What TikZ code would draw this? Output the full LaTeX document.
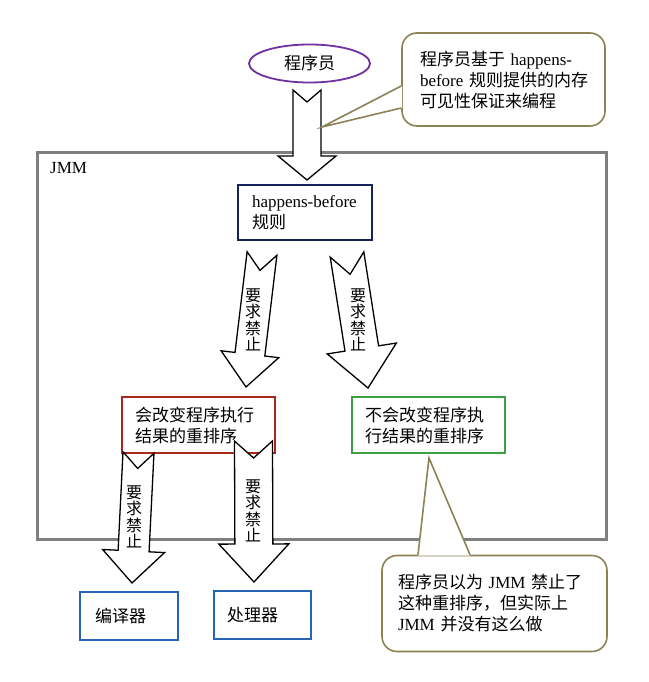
\documentclass[tikz,border=0pt]{standalone}
\usepackage{fontspec}
\setmainfont{Noto Sans CJK SC}
\newfontfamily\lat{Liberation Serif}
\usetikzlibrary{calc, shapes.geometric}

\definecolor{progpurple}{RGB}{112,48,160}
\definecolor{hbnavy}{RGB}{20,35,90}
\definecolor{reorderred}{RGB}{170,40,30}
\definecolor{safegreen}{RGB}{60,160,70}
\definecolor{hwblue}{RGB}{40,100,180}
\definecolor{jmmgray}{RGB}{127,127,127}
\definecolor{noteolive}{RGB}{140,130,85}

\begin{document}
\begin{tikzpicture}[x=1pt, y=-1pt, >=stealth,
    font=\fontsize{17}{21}\selectfont,
    box/.style={draw, line width=1.6pt, rectangle, align=left, inner xsep=0pt},
    fatarrow/.style={draw=black, line width=1.3pt, fill=white, line join=miter},
    vlabel/.style={align=center, font=\fontsize{16}{16.5}\selectfont, inner sep=0pt},
    note/.style={draw=noteolive, line width=1.6pt, rounded corners=15pt, fill=white,
                 align=left, inner xsep=0pt},
    noteline/.style={draw=noteolive, line width=1.6pt}]
  \useasboundingbox (0,0) rectangle (648,682);

  % JMM frame
  \node[draw=jmmgray, line width=3pt, minimum width=569pt, minimum height=387pt,
        inner sep=0pt] (jmm) at (321.5,345.5) {};
  \node[anchor=west, inner sep=0pt] (jmmlabel) at (50,168) {\lat JMM};

  % programmer
  \node[ellipse, draw=progpurple, line width=1.8pt, minimum width=121pt,
        minimum height=38pt, inner sep=0pt] (prog) at (309.5,63.5) {程序员};

  % boxes
  \node[box, draw=hbnavy, minimum width=134pt, minimum height=55pt, text width=106pt]
    (hb) at (305,212.5) {{\lat happens-before}\\规则};
  \node[box, draw=reorderred, minimum width=153pt, minimum height=56pt, text width=127pt]
    (reorder) at (198.5,425) {会改变程序执行\\结果的重排序};
  \node[box, draw=safegreen, minimum width=153pt, minimum height=56pt, text width=127pt]
    (noreorder) at (428.5,425) {不会改变程序执\\行结果的重排序};
  \node[box, draw=hwblue, minimum width=98pt, minimum height=48pt, text width=68pt]
    (compiler) at (129,616) {编译器};
  \node[box, draw=hwblue, minimum width=97pt, minimum height=48pt, text width=71pt]
    (cpu) at (262.5,615) {处理器};

  % arrow ends
  \coordinate (prog-out) at (307,90);
  \coordinate (hb-in) at (307,180);
  \coordinate (hb-out1) at (262,253.5);
  \coordinate (reorder-in) at (246,387);
  \coordinate (hb-out2) at (347,254.5);
  \coordinate (noreorder-in) at (368,388);
  \coordinate (reorder-out1) at (138.5,452.5);
  \coordinate (compiler-in) at (132,583);
  \coordinate (reorder-out2) at (253.5,441);
  \coordinate (cpu-in) at (254,582);

  % notched block arrows: tail/tip/shaft/head/head length/notch
  \foreach \tail/\tip/\sw/\hw/\hl/\nd in {prog-out/hb-in/14/29/24/12,
      hb-out1/reorder-in/15/29/33/17, hb-out2/noreorder-in/17/35/40/20,
      reorder-out1/compiler-in/15.5/31/32/16, reorder-out2/cpu-in/19/35/38/17}{
    \coordinate (base) at ($(\tip)!\hl pt!(\tail)$);
    \draw[fatarrow] ($(\tail)!\sw pt!90:(\tip)$) -- ($(\tail)!\nd pt!(\tip)$)
      -- ($(\tail)!\sw pt!-90:(\tip)$) -- ($(base)!\sw pt!-90:(\tip)$)
      -- ($(base)!\hw pt!-90:(\tip)$) -- (\tip) -- ($(base)!\hw pt!90:(\tip)$)
      -- ($(base)!\sw pt!90:(\tip)$) -- cycle;
  }
  \node[vlabel] (forbid1) at (253,320) {要\\求\\禁\\止};
  \node[vlabel] (forbid2) at (358,320) {要\\求\\禁\\止};
  \node[vlabel] (forbid3) at (134,517) {要\\求\\禁\\止};
  \node[vlabel] (forbid4) at (253,511) {要\\求\\禁\\止};

  % callouts
  \node[note, minimum width=203pt, minimum height=93pt, text width=167pt]
    (note1) at (503.5,79.5) {程序员基于 {\lat happens-}\\{\lat before}~规则提供的内存\\可见性保证来编程};
  \coordinate (note1-tip) at (322,127);
  \fill[white] ($(note1.west)+(1,6.5)$) -- (note1-tip) -- ($(note1.west)+(1,28.5)$) -- cycle;
  \draw[noteline] ($(note1.west)+(0,6.5)$) -- (note1-tip) -- ($(note1.west)+(0,28.5)$);

  \node[note, minimum width=225pt, minimum height=96pt, text width=193pt]
    (note2) at (494.5,603.5) {程序员以为 {\lat JMM} 禁止了\\这种重排序，但实际上\\{\lat JMM} 并没有这么做};
  \coordinate (note2-tip) at (429,458);
  \fill[white] ($(note2.north)+(-76.5,1)$) -- (note2-tip) -- ($(note2.north)+(-24.5,1)$) -- cycle;
  \draw[noteline] ($(note2.north)+(-76.5,0)$) -- (note2-tip) -- ($(note2.north)+(-24.5,0)$);
\end{tikzpicture}
\end{document}
